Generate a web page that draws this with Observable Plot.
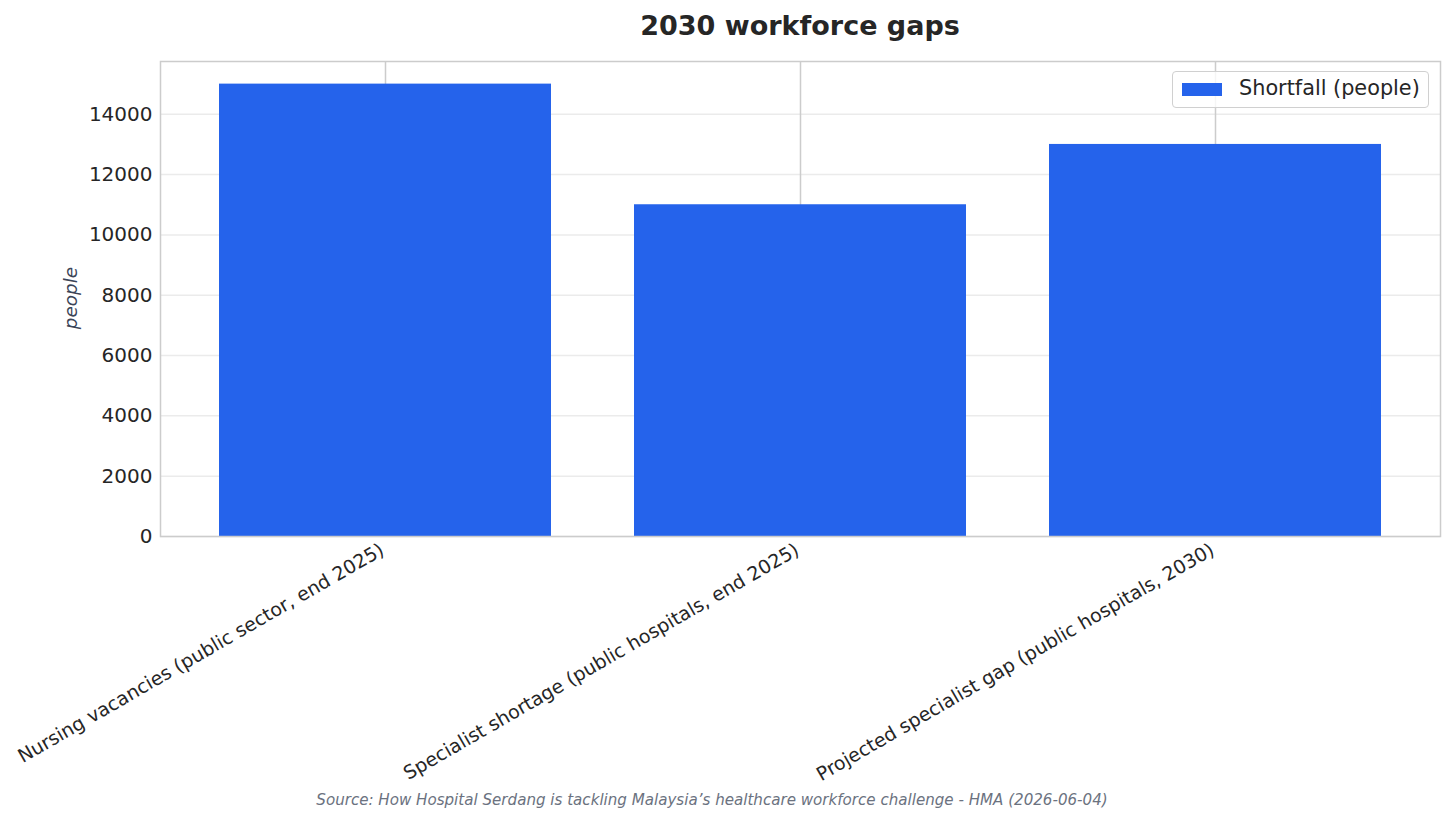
<!DOCTYPE html>
<html>
<head>
<meta charset="utf-8">
<script src="https://cdn.jsdelivr.net/npm/d3@7"></script>
<script src="https://cdn.jsdelivr.net/npm/@observablehq/plot@0.6"></script>
<style>
  html, body { margin: 0; padding: 0; background: #fff; }
  #wrap { position: relative; width: 1454px; height: 824px; font-family: "DejaVu Sans", sans-serif; }
  #title { position: absolute; left: 160px; width: 1280px; top: 10px; text-align: center; font-weight: bold; font-size: 27px; color: #262626; }
  #caption { position: absolute; left: 0; width: 1424px; top: 791px; text-align: center; font-style: italic; font-size: 15.1px; color: #6b7280; }
  #ylabel { position: absolute; left: 70px; top: 298px; transform: translate(-50%, -50%) rotate(-90deg); font-style: italic; font-size: 18.4px; color: #3b4457; white-space: nowrap; }
  #legend { position: absolute; left: 1172px; top: 71px; width: 255px; height: 35px; border: 1.5px solid #d0d0d0; border-radius: 4px; background: rgba(255,255,255,0.8); }
  #legend .sw { position: absolute; left: 9px; top: 11px; width: 40px; height: 13px; background: #2563eb; }
  #legend .lb { position: absolute; left: 66px; top: 4px; font-size: 20.8px; color: #262626; white-space: nowrap; }
  #chart { position: absolute; left: 0; top: 0; }
</style>
</head>
<body>
<div id="wrap">
  <div id="chart"></div>
  <div id="title"></div>
  <div id="ylabel"></div>
  <div id="legend"><div class="sw"></div><div class="lb"></div></div>
  <div id="caption"></div>
</div>
<script>
const titleText = "2030 workforce gaps";
const yLabel = "people";
const seriesName = "Shortfall (people)";
const caption = "Source: How Hospital Serdang is tackling Malaysia’s healthcare workforce challenge - HMA (2026-06-04)";
const categories = [
  "Nursing vacancies (public sector, end 2025)",
  "Specialist shortage (public hospitals, end 2025)",
  "Projected specialist gap (public hospitals, 2030)"
];
const values = [15000, 11000, 13000];
const yTicks = [0, 2000, 4000, 6000, 8000, 10000, 12000, 14000];
const barColor = "#2563eb";

const data = categories.map((c, i) => ({category: c, value: values[i]}));

document.getElementById("title").textContent = titleText;
document.getElementById("ylabel").textContent = yLabel;
document.querySelector("#legend .lb").textContent = seriesName;
document.getElementById("caption").textContent = caption;

const chart = Plot.plot({
  width: 1454,
  height: 824,
  marginLeft: 160,
  marginRight: 14,
  marginTop: 61,
  marginBottom: 288,
  style: {fontFamily: "DejaVu Sans, sans-serif", fontSize: "20px", color: "#262626", background: "transparent", overflow: "visible"},
  x: {type: "band", domain: categories, paddingInner: 0.2, paddingOuter: 0.142},
  y: {domain: [0, 15750]},
  marks: [
    Plot.gridY(yTicks, {stroke: "#ebebeb", strokeOpacity: 1, strokeWidth: 1.5}),
    Plot.gridX(categories, {stroke: "#cccccc", strokeOpacity: 1, strokeWidth: 1.5}),
    Plot.barY(data, {x: "category", y: "value", fill: barColor}),
    Plot.frame({stroke: "#cccccc", strokeWidth: 1.5}),
    Plot.axisY(yTicks, {tickSize: 0, tickPadding: 8, label: null, tickFormat: d => String(d), fontSize: 20}),
    Plot.axisX(categories, {tickSize: 0, tickPadding: 12, dx: -3, tickRotate: -30, label: null, fontSize: 19})
  ]
});
document.getElementById("chart").appendChild(chart);
</script>
</body>
</html>
